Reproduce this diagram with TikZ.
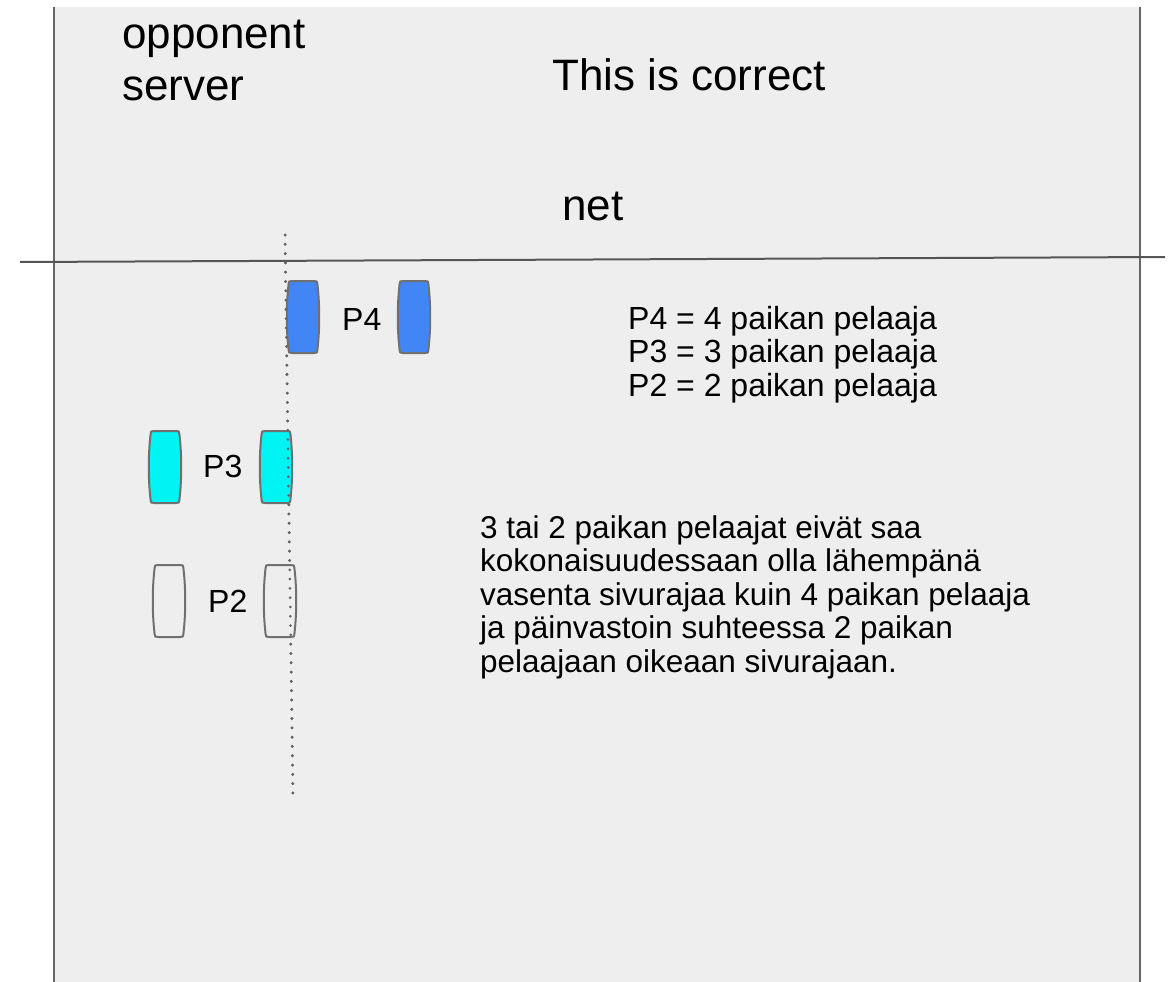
\documentclass[tikz,border=0pt]{standalone}
\usepackage{fontspec}
\setmainfont{Liberation Sans}
\definecolor{court}{HTML}{EEEEEE}
\definecolor{edge}{HTML}{666666}
\definecolor{netline}{HTML}{555555}
\definecolor{pfour}{HTML}{4285F4}
\definecolor{pthree}{HTML}{00F4F4}
\definecolor{pouter}{HTML}{707070}
\begin{document}
\begin{tikzpicture}[x=1pt,y=-1pt,
  % multi-line nodes are placed by the baseline of their last line
  bigtext/.style={anchor=base west,inner sep=0pt,align=left,
    font=\fontsize{44}{52}\selectfont},
  smalltext/.style={anchor=base west,inner sep=0pt,align=left,
    font=\fontsize{32}{33.5}\selectfont},
  ruletext/.style={anchor=base west,inner sep=0pt,align=left,
    font=\fontsize{31.5}{33.5}\selectfont},
  player/.pic={
    \path[draw=pouter,line width=2pt,pic actions]
      (-11,-36) -- (11,-36) .. controls (14,-36) .. (14.5,-32)
      .. controls (16.8,-12) and (16.8,12) .. (14.5,32)
      .. controls (14,36) .. (11,36) -- (-11,36)
      .. controls (-14,36) .. (-14.5,32)
      .. controls (-16.8,12) and (-16.8,-12) .. (-14.5,-32)
      .. controls (-14,-36) .. cycle;
  },
  dots/.style={edge,line width=3pt,line cap=round,dash pattern=on 0pt off 9.3pt}]
\useasboundingbox (0,0) rectangle (1171,982);

% court surface and side lines
\fill[court] (54,7) rectangle (1140,982);
\draw[edge,line width=2.8pt] (54,7) -- (54,982);
\draw[edge,line width=2.8pt] (1140,7) -- (1140,982);

% net
\coordinate (netL) at (20,262);
\coordinate (netR) at (1165,257);
\draw[netline,line width=2pt] (netL) -- (netR);

% reference line through the position-4 player
\coordinate (refT) at (285,235);
\coordinate (refB) at (293,797);
\draw[dots] (refT) -- (refB);

% players
\pic[fill=pfour] (p4a) at (303,317) {player};
\pic[fill=pfour] (p4b) at (414,317) {player};
\pic[fill=pthree] (p3a) at (165,467) {player};
\pic[fill=pthree] (p3b) at (276,467) {player};
\pic[fill=court] (p2a) at (169,601) {player};
\pic[fill=court] (p2b) at (280,601) {player};

% redraw the dotted line over the players it crosses
\draw[dots] (refT) -- (refB);

\node[smalltext] (l4) at (342,330) {P4};
\node[smalltext] (l3) at (203,477) {P3};
\node[smalltext] (l2) at (208,612) {P2};

% titles
\node[bigtext] (opp) at (122,100) {opponent\\server};
\node[bigtext] (title) at (552,91) {This is correct};
\node[bigtext] (net) at (562,220) {net};

% legend and rule text
\node[smalltext] (legend) at (628,396)
  {P4 = 4 paikan pelaaja\\P3 = 3 paikan pelaaja\\P2 = 2 paikan pelaaja};
\node[ruletext] (rule) at (480,672)
  {3 tai 2 paikan pelaajat eivät saa\\kokonaisuudessaan olla lähempänä\\vasenta sivurajaa kuin 4 paikan pelaaja\\ja päinvastoin suhteessa 2 paikan\\pelaajaan oikeaan sivurajaan.};
\end{tikzpicture}
\end{document}
